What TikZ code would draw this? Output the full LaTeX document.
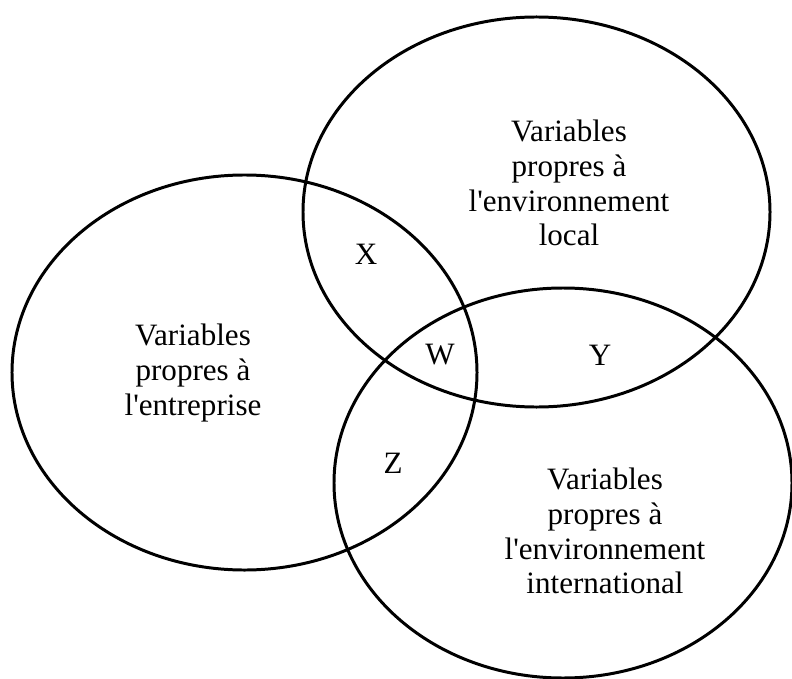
\documentclass[tikz,border=0pt]{standalone}
\usepackage{fontspec}
\setmainfont{Liberation Serif}
\usepackage{tikz}
\usetikzlibrary{shapes}

\begin{document}
\begin{tikzpicture}[x=0.5bp, y=-0.5bp,
		set/.style={draw, ellipse, line width=1.5pt, inner sep=0pt},
		lbl/.style={align=center, font=\fontsize{15.6}{17.5}\selectfont}]
		\useasboundingbox (0, 0) rectangle (792, 679);

		\node[set, minimum width=465bp*0.5, minimum height=395bp*0.5] (ent) at (244.5, 372.5) {};
		\node[set, minimum width=467bp*0.5, minimum height=390bp*0.5] (loc) at (536.5, 212) {};
		\node[set, minimum width=458bp*0.5, minimum height=390bp*0.5] (int) at (563, 483) {};

		\node[lbl] (tent) at (193, 373) {Variables\\propres à\\l\textquotesingle entreprise};
		\node[lbl] (tloc) at (569, 183) {Variables\\propres à\\l\textquotesingle environnement\\local};
		\node[lbl] (tint) at (605, 531) {Variables\\propres à\\l\textquotesingle environnement\\international};

		\node[lbl] (x) at (366, 254) {X};
		\node[lbl] (w) at (440, 355) {W};
		\node[lbl] (y) at (600, 355) {Y};
		\node[lbl] (z) at (393, 463) {Z};
\end{tikzpicture}
\end{document}
